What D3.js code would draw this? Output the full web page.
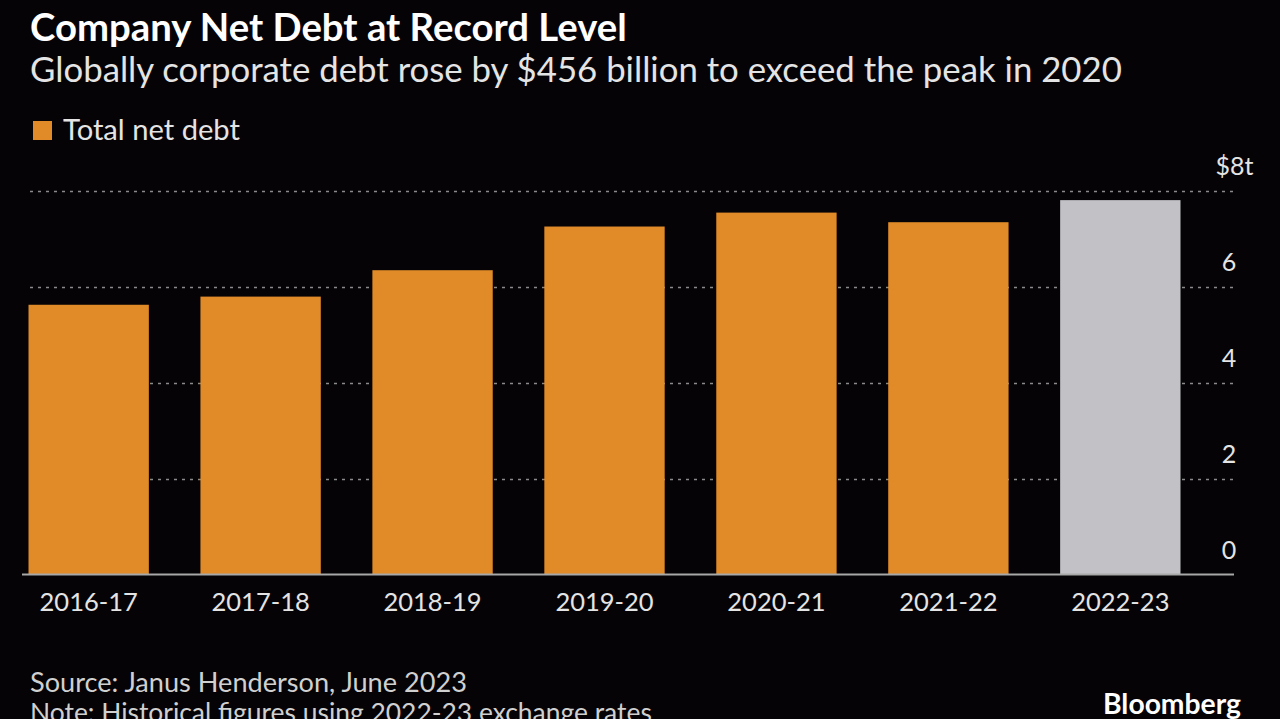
<!DOCTYPE html>
<html>
<head>
<meta charset="utf-8">
<script src="https://cdn.jsdelivr.net/npm/d3@7"></script>
<style>
  html, body { margin: 0; padding: 0; background: #050305; overflow: hidden; }
  svg { display: block; }
  text { font-family: Lato, "Noto Sans", sans-serif; }
</style>
</head>
<body>
<svg id="chart" width="1280" height="719"></svg>
<script>
// ---- data ----
const categories = ["2016-17", "2017-18", "2018-19", "2019-20", "2020-21", "2021-22", "2022-23"];
const netDebt = [5.63, 5.80, 6.35, 7.26, 7.55, 7.35, 7.81]; // $ trillions
const yTicks = [0, 2, 4, 6, 8];
const seriesName = "Total net debt";
const titleText = "Company Net Debt at Record Level";
const subtitleText = "Globally corporate debt rose by $456 billion to exceed the peak in 2020";
const sourceText = "Source: Janus Henderson, June 2023";
const noteText = "Note: Historical figures using 2022-23 exchange rates";

// ---- styles ----
const ORANGE = "#E08A28";
const GREY_BAR = "#C2C1C6";
const TEXT = "#E4E4E4";

const svg = d3.select("#chart");
svg.append("rect").attr("width", 1280).attr("height", 719).attr("fill", "#050305");

function fit(sel, w) {
  const n = sel.node();
  const cur = n.getComputedTextLength();
  const fs = parseFloat(sel.attr("font-size"));
  if (cur > 0) sel.attr("font-size", (fs * w / cur).toFixed(2));
  return sel;
}

// titles
fit(svg.append("text").attr("x", 30).attr("y", 41).attr("font-size", 32)
  .attr("font-weight", 700).attr("fill", "#FFFFFF").text(titleText), 597);
fit(svg.append("text").attr("x", 30).attr("y", 82).attr("font-size", 28)
  .attr("fill", TEXT).text(subtitleText), 1092);

// legend
svg.append("rect").attr("x", 33).attr("y", 121).attr("width", 19).attr("height", 19).attr("fill", ORANGE);
fit(svg.append("text").attr("x", 63).attr("y", 140).attr("font-size", 26)
  .attr("fill", TEXT).text(seriesName), 177);

// scales
const x = d3.scaleBand().domain(categories).range([28.5, 1180.5]).paddingInner(0.3).paddingOuter(0);
const y = d3.scaleLinear().domain([0, 8]).range([575, 191]);

// y axis / gridlines
const gridLeft = 28, gridRight = 1233;
const yAxis = svg.append("g").attr("transform", `translate(${gridRight},0)`)
  .call(d3.axisRight(y).tickValues(yTicks).tickSize(-(gridRight - gridLeft)).tickPadding(0)
    .tickFormat(d => d === 8 ? "$8t" : d));
yAxis.select(".domain").remove();
yAxis.selectAll(".tick line")
  .attr("stroke", d => d === 0 ? "none" : "#8A8A8A")
  .attr("stroke-width", 1.6)
  .attr("stroke-dasharray", "3,5");
yAxis.selectAll(".tick text")
  .attr("fill", TEXT)
  .attr("font-size", 25)
  .attr("font-family", "Lato, 'Noto Sans', sans-serif")
  .attr("text-anchor", "middle")
  .attr("dy", 0)
  .attr("y", -17)
  .attr("x", d => d === 8 ? 1.5 : -4);

// bars
svg.append("g").selectAll("rect").data(categories).join("rect")
  .attr("x", d => x(d))
  .attr("width", x.bandwidth())
  .attr("y", (d, i) => y(netDebt[i]))
  .attr("height", (d, i) => y(0) - y(netDebt[i]))
  .attr("fill", (d, i) => i === categories.length - 1 ? GREY_BAR : ORANGE);

// zero baseline
svg.append("line").attr("x1", 22).attr("x2", 1234).attr("y1", y(0) - 0.5).attr("y2", y(0) - 0.5)
  .attr("stroke", "#A8A8A8").attr("stroke-width", 2);

// x axis labels
const xAxis = svg.append("g").attr("transform", `translate(0,${y(0)})`)
  .call(d3.axisBottom(x).tickSize(0).tickPadding(0));
xAxis.select(".domain").remove();
xAxis.selectAll(".tick text")
  .attr("fill", TEXT)
  .attr("font-size", 25.5)
  .attr("font-family", "Lato, 'Noto Sans', sans-serif")
  .attr("dy", 0)
  .attr("y", 36);

// footer
fit(svg.append("text").attr("x", 30).attr("y", 692).attr("font-size", 24)
  .attr("fill", "#D0D0D0").text(sourceText), 437);
fit(svg.append("text").attr("x", 30).attr("y", 722).attr("font-size", 24)
  .attr("fill", "#D0D0D0").text(noteText), 622);
fit(svg.append("text").attr("x", 1103).attr("y", 714).attr("font-size", 24)
  .attr("font-weight", 700).attr("fill", "#FFFFFF").text("Bloomberg"), 138);
</script>
</body>
</html>
